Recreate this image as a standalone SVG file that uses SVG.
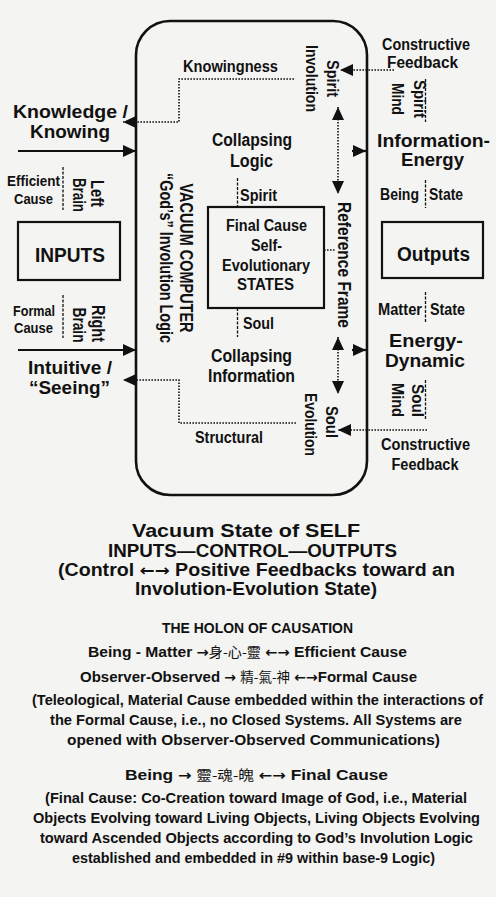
<svg xmlns="http://www.w3.org/2000/svg" width="496" height="897" viewBox="0 0 496 897">
  <style>
    .t { font-family: "Liberation Sans", Arial, "Noto Sans CJK TC", sans-serif; font-weight: bold; fill: #111; text-anchor: middle; }
    .s { text-anchor: start; }
    .cjk { font-family: "Noto Sans CJK TC", "Noto Sans CJK SC", sans-serif; font-weight: normal; font-size: 13.5px; }
    .arr { font-family: "DejaVu Sans", sans-serif; font-weight: bold; font-size: 14px; }
    .frame { fill: none; stroke: #111; stroke-width: 2.6; }
    .box { fill: none; stroke: #111; stroke-width: 2.2; }
    .solid { fill: none; stroke: #111; stroke-width: 2.2; }
    .dot { fill: none; stroke: #111; stroke-width: 1.6; stroke-dasharray: 1.6 1.4; }
    .div { stroke: #111; stroke-width: 1.3; stroke-dasharray: 3 1.5; }
  </style>
  <defs>
    <marker id="arrow" viewBox="0 0 13 12" refX="13" refY="6" markerWidth="13" markerHeight="12" markerUnits="userSpaceOnUse" orient="auto-start-reverse">
      <path d="M0,0 L13,6 L0,12 Z" fill="#111"/>
    </marker>
  </defs>

  <rect width="496" height="897" fill="#f4f4f2"/>

  <!-- vacuum computer frame -->
  <g id="vacuum-computer">
    <rect class="frame" x="136" y="21" width="231" height="474" rx="34"/>
    <text class="t" font-size="18.5" textLength="149" lengthAdjust="spacingAndGlyphs" transform="translate(180,258) rotate(90)">VACUUM COMPUTER</text>
    <text class="t" font-size="18.5" textLength="170" lengthAdjust="spacingAndGlyphs" transform="translate(159.5,258) rotate(90)">“God’s” Involution Logic</text>
  </g>

  <!-- connectors -->
  <g id="connectors">
    <polyline class="dot" points="294,79 179,79 179,122 123,122" marker-end="url(#arrow)"/>
    <polyline class="dot" points="296,423 179,423 179,380 123,380" marker-end="url(#arrow)"/>
    <line class="solid" x1="18" y1="151" x2="136" y2="151" marker-end="url(#arrow)"/>
    <line class="solid" x1="18" y1="350" x2="136" y2="350" marker-end="url(#arrow)"/>
    <line class="dot" x1="394" y1="70" x2="340" y2="70" marker-end="url(#arrow)"/>
    <line class="dot" x1="427" y1="430" x2="338" y2="430" marker-end="url(#arrow)"/>
    <line class="dot" x1="338" y1="107" x2="338" y2="194" marker-start="url(#arrow)" marker-end="url(#arrow)"/>
    <line class="dot" x1="338" y1="337" x2="338" y2="394" marker-start="url(#arrow)" marker-end="url(#arrow)"/>
    <line class="solid" x1="352" y1="151" x2="366" y2="151" marker-end="url(#arrow)"/>
    <line class="solid" x1="352" y1="350" x2="366" y2="350" marker-end="url(#arrow)"/>
    <line class="dot" x1="324" y1="250" x2="336" y2="250"/>
  </g>

  <!-- label dividers -->
  <g id="dividers">
    <line class="div" x1="63" y1="167" x2="63" y2="210"/>
    <line class="div" x1="63" y1="295" x2="63" y2="338"/>
    <line class="div" x1="237.5" y1="178" x2="237.5" y2="207"/>
    <line class="div" x1="237.5" y1="308" x2="237.5" y2="337"/>
    <line class="div" x1="425.5" y1="79" x2="425.5" y2="122"/>
    <line class="div" x1="425.5" y1="180" x2="425.5" y2="208"/>
    <line class="div" x1="425.5" y1="292" x2="425.5" y2="322"/>
    <line class="div" x1="425.5" y1="380" x2="425.5" y2="420"/>
  </g>

  <g id="knowingness">
    <text class="t" x="230.5" y="72" font-size="16" textLength="95" lengthAdjust="spacingAndGlyphs">Knowingness</text>
  </g>

  <g id="knowledge">
    <text class="t" x="70.5" y="118" font-size="18" textLength="115" lengthAdjust="spacingAndGlyphs">Knowledge /</text>
    <text class="t" x="70" y="138" font-size="18" textLength="80" lengthAdjust="spacingAndGlyphs">Knowing</text>
  </g>

  <g id="efficient-cause">
    <text class="t" x="33.5" y="186" font-size="15" textLength="53" lengthAdjust="spacingAndGlyphs">Efficient</text>
    <text class="t" x="33.5" y="204" font-size="15" textLength="39" lengthAdjust="spacingAndGlyphs">Cause</text>
  </g>

  <g id="left-brain">
    <text class="t" font-size="19" textLength="27" lengthAdjust="spacingAndGlyphs" transform="translate(91,193.5) rotate(90)">Left</text>
    <text class="t" font-size="19" textLength="34" lengthAdjust="spacingAndGlyphs" transform="translate(73,195) rotate(90)">Brain</text>
  </g>

  <g id="inputs">
    <rect class="box" x="18" y="222" width="102" height="58"/>
    <text class="t" x="70" y="262" font-size="21" textLength="70" lengthAdjust="spacingAndGlyphs">INPUTS</text>
  </g>

  <g id="formal-cause">
    <text class="t" x="34" y="316" font-size="15" textLength="42" lengthAdjust="spacingAndGlyphs">Formal</text>
    <text class="t" x="33.5" y="333" font-size="15" textLength="39" lengthAdjust="spacingAndGlyphs">Cause</text>
  </g>

  <g id="right-brain">
    <text class="t" font-size="19" textLength="37" lengthAdjust="spacingAndGlyphs" transform="translate(92,323.5) rotate(90)">Right</text>
    <text class="t" font-size="19" textLength="35" lengthAdjust="spacingAndGlyphs" transform="translate(73,325) rotate(90)">Brain</text>
  </g>

  <g id="intuitive">
    <text class="t" x="70" y="374" font-size="18" textLength="84" lengthAdjust="spacingAndGlyphs">Intuitive /</text>
    <text class="t" x="69.5" y="394" font-size="18" textLength="81" lengthAdjust="spacingAndGlyphs">“Seeing”</text>
  </g>

  <g id="structural">
    <text class="t" x="229" y="443" font-size="17" textLength="68" lengthAdjust="spacingAndGlyphs">Structural</text>
  </g>

  <g id="collapsing-logic">
    <text class="t" x="252" y="146" font-size="17.5" textLength="80" lengthAdjust="spacingAndGlyphs">Collapsing</text>
    <text class="t" x="251.5" y="167" font-size="17.5" textLength="43" lengthAdjust="spacingAndGlyphs">Logic</text>
  </g>

  <g id="spirit">
    <text class="t s" x="240" y="201" font-size="16" textLength="37" lengthAdjust="spacingAndGlyphs">Spirit</text>
  </g>

  <g id="final-cause">
    <rect class="box" x="208" y="207" width="116" height="101"/>
    <text class="t" x="266.5" y="230.5" font-size="16" textLength="81" lengthAdjust="spacingAndGlyphs">Final Cause</text>
    <text class="t" x="266.5" y="250.5" font-size="16" textLength="31" lengthAdjust="spacingAndGlyphs">Self-</text>
    <text class="t" x="266" y="271" font-size="16" textLength="88" lengthAdjust="spacingAndGlyphs">Evolutionary</text>
    <text class="t" x="265.5" y="289.5" font-size="16" textLength="57" lengthAdjust="spacingAndGlyphs">STATES</text>
  </g>

  <g id="soul">
    <text class="t s" x="243" y="329" font-size="16" textLength="31" lengthAdjust="spacingAndGlyphs">Soul</text>
  </g>

  <g id="collapsing-information">
    <text class="t" x="251.5" y="362" font-size="17.5" textLength="81" lengthAdjust="spacingAndGlyphs">Collapsing</text>
    <text class="t" x="251.5" y="382" font-size="17.5" textLength="87" lengthAdjust="spacingAndGlyphs">Information</text>
  </g>

  <g id="reference-frame">
    <text class="t" font-size="19" textLength="126" lengthAdjust="spacingAndGlyphs" transform="translate(337.5,265) rotate(90)">Reference Frame</text>
  </g>

  <g id="spirit-involution">
    <text class="t" font-size="16" textLength="37" lengthAdjust="spacingAndGlyphs" transform="translate(327,78.5) rotate(90)">Spirit</text>
    <text class="t" font-size="16" textLength="67" lengthAdjust="spacingAndGlyphs" transform="translate(305.5,78.5) rotate(90)">Involution</text>
  </g>

  <g id="soul-evolution">
    <text class="t" font-size="16" textLength="32" lengthAdjust="spacingAndGlyphs" transform="translate(325.5,422) rotate(90)">Soul</text>
    <text class="t" font-size="16" textLength="63" lengthAdjust="spacingAndGlyphs" transform="translate(304.5,424.5) rotate(90)">Evolution</text>
  </g>

  <g id="feedback-top">
    <text class="t" x="426" y="50" font-size="16" textLength="88" lengthAdjust="spacingAndGlyphs">Constructive</text>
    <text class="t" x="422.5" y="68" font-size="16" textLength="71" lengthAdjust="spacingAndGlyphs">Feedback</text>
  </g>

  <g id="spirit-mind">
    <text class="t" font-size="16" textLength="38" lengthAdjust="spacingAndGlyphs" transform="translate(413.5,99) rotate(90)">Spirit</text>
    <text class="t" font-size="16" textLength="32" lengthAdjust="spacingAndGlyphs" transform="translate(392,99) rotate(90)">Mind</text>
  </g>

  <g id="information-energy">
    <text class="t" x="433.5" y="147" font-size="18.5" textLength="113" lengthAdjust="spacingAndGlyphs">Information-</text>
    <text class="t" x="432.5" y="166" font-size="18.5" textLength="63" lengthAdjust="spacingAndGlyphs">Energy</text>
  </g>

  <g id="being-state">
    <text class="t" x="399.5" y="200" font-size="16" textLength="39" lengthAdjust="spacingAndGlyphs">Being</text>
    <text class="t" x="446" y="200" font-size="16" textLength="34" lengthAdjust="spacingAndGlyphs">State</text>
  </g>

  <g id="outputs">
    <rect class="box" x="382" y="222" width="101" height="56"/>
    <text class="t" x="433.5" y="260.5" font-size="20" textLength="73" lengthAdjust="spacingAndGlyphs">Outputs</text>
  </g>

  <g id="matter-state">
    <text class="t" x="400" y="315" font-size="16" textLength="44" lengthAdjust="spacingAndGlyphs">Matter</text>
    <text class="t" x="447.5" y="315" font-size="16" textLength="35" lengthAdjust="spacingAndGlyphs">State</text>
  </g>

  <g id="energy-dynamic">
    <text class="t" x="426" y="346.5" font-size="18.5" textLength="74" lengthAdjust="spacingAndGlyphs">Energy-</text>
    <text class="t" x="425" y="367" font-size="18.5" textLength="80" lengthAdjust="spacingAndGlyphs">Dynamic</text>
  </g>

  <g id="soul-mind">
    <text class="t" font-size="16" textLength="33" lengthAdjust="spacingAndGlyphs" transform="translate(412,400.5) rotate(90)">Soul</text>
    <text class="t" font-size="16" textLength="34" lengthAdjust="spacingAndGlyphs" transform="translate(392,400) rotate(90)">Mind</text>
  </g>

  <g id="feedback-bottom">
    <text class="t" x="425.5" y="450" font-size="16" textLength="89" lengthAdjust="spacingAndGlyphs">Constructive</text>
    <text class="t" x="425" y="470" font-size="16" textLength="67" lengthAdjust="spacingAndGlyphs">Feedback</text>
  </g>

  <!-- caption -->
  <g id="caption">
    <text class="t" x="246" y="537" font-size="17.5" textLength="228" lengthAdjust="spacingAndGlyphs">Vacuum State of SELF</text>
    <text class="t" x="252.5" y="557" font-size="17.5" textLength="289" lengthAdjust="spacingAndGlyphs">INPUTS—CONTROL—OUTPUTS</text>
    <text class="t" x="256.5" y="576" font-size="17.5" textLength="397" lengthAdjust="spacingAndGlyphs">(Control <tspan class="arr" style="font-size:16px">←→</tspan> Positive Feedbacks toward an</text>
    <text class="t" x="256" y="595" font-size="17.5" textLength="242" lengthAdjust="spacingAndGlyphs">Involution-Evolution State)</text>
  </g>

  <g id="holon">
    <text class="t" x="257.5" y="633" font-size="15" textLength="191" lengthAdjust="spacingAndGlyphs">THE HOLON OF CAUSATION</text>
    <text class="t" x="247.5" y="656.5" font-size="15" textLength="319" lengthAdjust="spacingAndGlyphs">Being - Matter <tspan class="arr">→</tspan><tspan class="cjk">身-心-靈</tspan> <tspan class="arr">←→</tspan> Efficient Cause</text>
    <text class="t" x="248.5" y="682" font-size="15" textLength="337" lengthAdjust="spacingAndGlyphs">Observer-Observed <tspan class="arr">→</tspan> <tspan class="cjk">精-氣-神</tspan> <tspan class="arr">←→</tspan>Formal Cause</text>
    <text class="t" x="257.5" y="705" font-size="15" textLength="451" lengthAdjust="spacingAndGlyphs">(Teleological, Material Cause embedded within the interactions of</text>
    <text class="t" x="256" y="725" font-size="15" textLength="412" lengthAdjust="spacingAndGlyphs">the Formal Cause, i.e., no Closed Systems. All Systems are</text>
    <text class="t" x="253.5" y="745" font-size="15" textLength="373" lengthAdjust="spacingAndGlyphs">opened with Observer-Observed Communications)</text>
  </g>

  <g id="final-cause-note">
    <text class="t" x="256.5" y="780" font-size="15" textLength="263" lengthAdjust="spacingAndGlyphs">Being <tspan class="arr">→</tspan> <tspan class="cjk">靈-魂-魄</tspan> <tspan class="arr">←→</tspan> Final Cause</text>
    <text class="t" x="256" y="803" font-size="15" textLength="422" lengthAdjust="spacingAndGlyphs">(Final Cause: Co-Creation toward Image of God, i.e., Material</text>
    <text class="t" x="256.5" y="823" font-size="15" textLength="447" lengthAdjust="spacingAndGlyphs">Objects Evolving toward Living Objects, Living Objects Evolving</text>
    <text class="t" x="256.5" y="843" font-size="15" textLength="433" lengthAdjust="spacingAndGlyphs">toward Ascended Objects according to God’s Involution Logic</text>
    <text class="t" x="253.5" y="863" font-size="15" textLength="363" lengthAdjust="spacingAndGlyphs">established and embedded in #9 within base-9 Logic)</text>
  </g>
</svg>
